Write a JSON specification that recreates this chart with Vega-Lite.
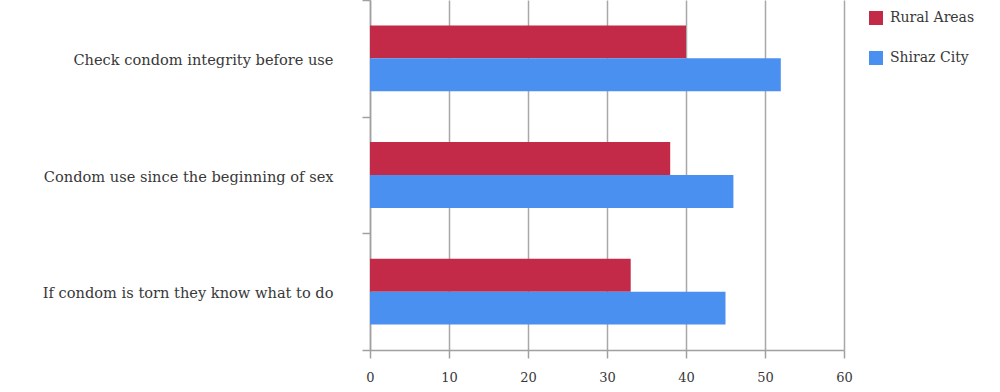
{
  "$schema": "https://vega.github.io/schema/vega-lite/v6.json",
  "autosize": "none",
  "width": 474,
  "height": 350,
  "padding": {"left": 370, "top": 0, "right": 156, "bottom": 42},
  "background": "white",
  "data": {
    "values": [
      {"item": "Check condom integrity before use", "area": "Rural Areas", "value": 40},
      {"item": "Check condom integrity before use", "area": "Shiraz City", "value": 52},
      {"item": "Condom use since the beginning of sex", "area": "Rural Areas", "value": 38},
      {"item": "Condom use since the beginning of sex", "area": "Shiraz City", "value": 46},
      {"item": "If condom is torn they know what to do", "area": "Rural Areas", "value": 33},
      {"item": "If condom is torn they know what to do", "area": "Shiraz City", "value": 45}
    ]
  },
  "mark": {"type": "bar"},
  "encoding": {
    "y": {
      "field": "item",
      "type": "nominal",
      "sort": null,
      "scale": {"paddingInner": 0, "paddingOuter": 0},
      "axis": {
        "title": null,
        "tickBand": "extent",
        "domainColor": "#a0a0a0",
        "domainWidth": 1.5,
        "tickColor": "#a0a0a0",
        "tickWidth": 1.5,
        "tickSize": 8,
        "labelPadding": 29,
        "labelOffset": 2,
        "labelFont": "DejaVu Serif",
        "labelFontSize": 14.6,
        "labelColor": "#383838",
        "labelLimit": 400
      }
    },
    "yOffset": {
      "field": "area",
      "type": "nominal",
      "scale": {"domain": ["Rural Areas", "Shiraz City"], "paddingInner": 0, "paddingOuter": 0.77}
    },
    "x": {
      "field": "value",
      "type": "quantitative",
      "scale": {"domain": [0, 60], "nice": false},
      "axis": {
        "title": null,
        "values": [0, 10, 20, 30, 40, 50, 60],
        "grid": true,
        "gridColor": "#a8a8a8",
        "gridWidth": 1.5,
        "domainColor": "#a0a0a0",
        "domainWidth": 1.5,
        "tickColor": "#a0a0a0",
        "tickWidth": 1.5,
        "tickSize": 8,
        "labelPadding": 13,
        "labelFlush": false,
        "labelFont": "DejaVu Serif",
        "labelFontSize": 13,
        "labelColor": "#383838"
      }
    },
    "color": {
      "field": "area",
      "type": "nominal",
      "scale": {"domain": ["Rural Areas", "Shiraz City"], "range": ["#c22a48", "#4a90f0"]},
      "legend": {
        "title": null,
        "orient": "none",
        "legendX": 499,
        "legendY": 11,
        "symbolType": "square",
        "symbolSize": 196,
        "symbolStrokeWidth": 0,
        "labelFont": "DejaVu Serif",
        "labelFontSize": 14,
        "labelColor": "#383838",
        "labelOffset": 7,
        "rowPadding": 26
      }
    }
  },
  "config": {"view": {"stroke": null}}
}
